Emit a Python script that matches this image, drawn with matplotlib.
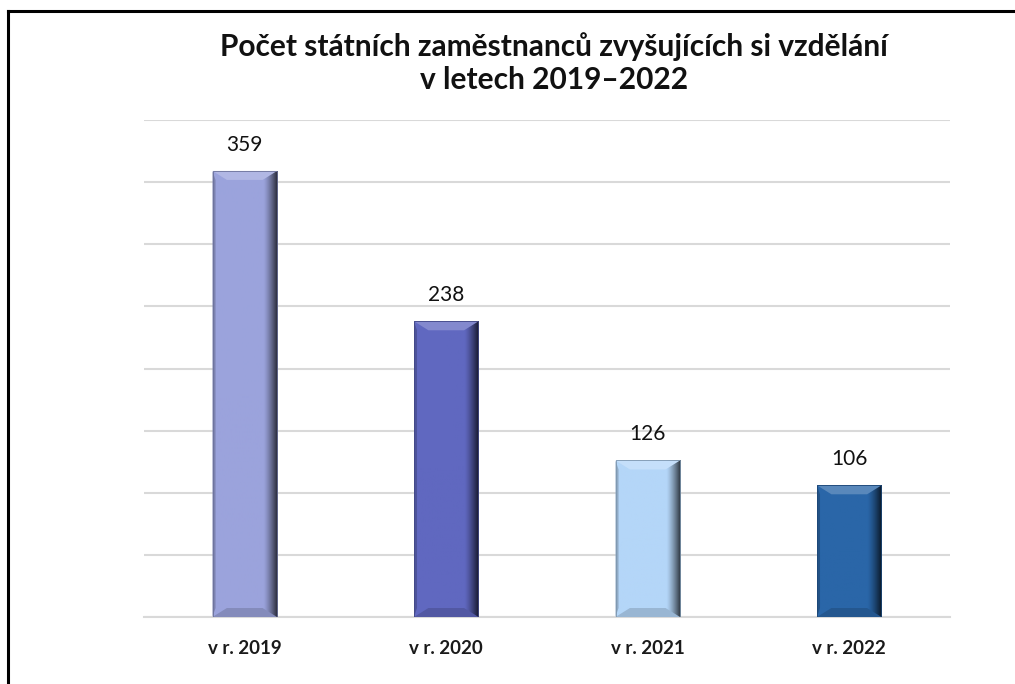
import numpy as np
import matplotlib.pyplot as plt
from matplotlib.patches import Polygon, Rectangle
from matplotlib.colors import to_rgb

plt.rcParams['font.family'] = ['Lato', 'DejaVu Sans']

# data
categories = ['v r. 2019', 'v r. 2020', 'v r. 2021', 'v r. 2022']
values = [359, 238, 126, 106]
colors = ['#9BA3DC', '#6068C0', '#B4D6F8', '#2A66A8']
title = 'Počet státních zaměstnanců zvyšujících si vzdělání\nv letech 2019–2022'

W, H = 1015, 684
fig = plt.figure(figsize=(W / 100, H / 100), dpi=100)
ax = fig.add_axes([144 / W, 67 / H, 806 / W, 497 / H])

x = np.arange(len(categories))
bars = ax.bar(x, values, width=0.32, color=colors, zorder=3)

ax.set_xlim(-0.5, len(categories) - 0.5)
ax.set_ylim(0, 400)
ax.set_yticks(np.arange(0, 401, 50))
ax.yaxis.grid(True, color='#D9D9D9', lw=1.5, zorder=0)
ax.tick_params(left=False, labelleft=False, bottom=False, pad=13)
for s in ['top', 'right', 'left']:
    ax.spines[s].set_visible(False)
ax.spines['bottom'].set_color('#D9D9D9')
ax.spines['bottom'].set_linewidth(1.5)
ax.set_xticks(x)
ax.set_xticklabels(categories, fontsize=13.5, fontweight='bold', color='#1a1a1a')


def shade(c, f):
    r, g, b = to_rgb(c)
    if f >= 0:
        return (r + (1 - r) * f, g + (1 - g) * f, b + (1 - b) * f)
    return (r * (1 + f), g * (1 + f), b * (1 + f))


# bevel effect, sizes in pixels converted to data units
px_x = 1.0 / 201.5
px_y = 400 / 497
for b, c in zip(bars, colors):
    x0, w, h = b.get_x(), b.get_width(), b.get_height()
    x1 = x0 + w
    dx, dy = 9 * px_x, 9 * px_y
    # horizontal gradient darkening toward the right edge
    grad = np.linspace(0, 1, 64)
    base = np.array(to_rgb(c))
    dark = np.array(shade(c, -0.75))
    t = np.clip((grad - 0.78) / 0.22, 0, 1) ** 1.3
    img = base[None, :] * (1 - t[:, None]) + dark[None, :] * t[:, None]
    im = ax.imshow(img[None, :, :], extent=[x0, x1, 0, h], aspect='auto', zorder=3.2)
    im.set_clip_path(b)
    # left strip
    ax.add_patch(Polygon([[x0, 0], [x0 + 3 * px_x, dy], [x0 + 3 * px_x, h - dy], [x0, h]],
                         closed=True, color=shade(c, -0.2), lw=0, zorder=3.4))
    # top bevel
    ax.add_patch(Polygon([[x0, h], [x1, h], [x1 - dx * 1.6, h - dy], [x0 + dx * 1.6, h - dy]],
                         closed=True, color=shade(c, 0.22), lw=0, zorder=3.5))
    # bottom bevel
    ax.add_patch(Polygon([[x0, 0], [x1, 0], [x1 - dx * 1.6, dy], [x0 + dx * 1.6, dy]],
                         closed=True, color=shade(c, -0.15), lw=0, zorder=3.5))
    ax.add_patch(Rectangle((x0, 0), w, h, fill=False, ec=shade(c, -0.3), lw=0.6, zorder=3.6))
    ax.annotate(str(int(h)), (b.get_x() + w / 2, h), xytext=(0, 19), textcoords='offset points',
                ha='center', va='center', fontsize=15, color='#111111')

fig.text(554 / W, 1 - 63 / H, title, ha='center', va='center', fontsize=21.5,
         fontweight='bold', linespacing=1.25, color='#111111')

# outer frame (left and top only, as in the source)
fig.add_artist(plt.Line2D([8 / W, 8 / W], [0, 1 - 11 / H], color='black', lw=2.2))
fig.add_artist(plt.Line2D([8 / W, 1], [1 - 11 / H, 1 - 11 / H], color='black', lw=2.2))

fig.savefig('out.png', dpi=100)
